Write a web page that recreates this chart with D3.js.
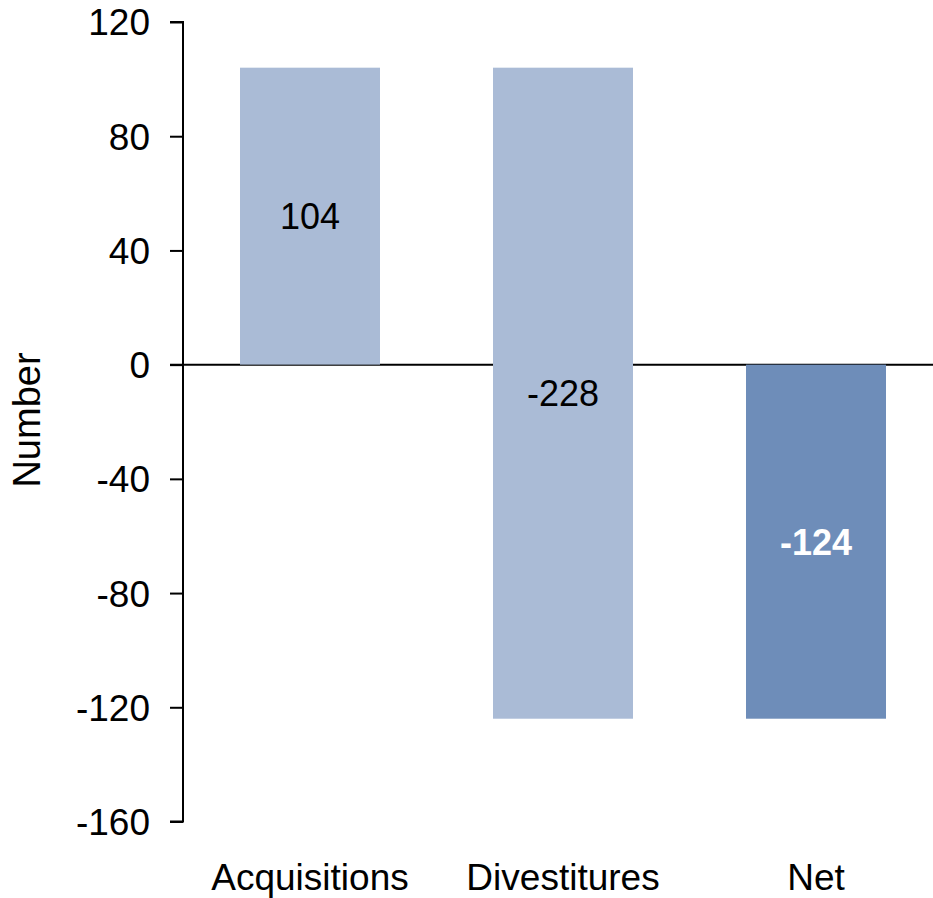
<!DOCTYPE html>
<html>
<head>
<meta charset="utf-8">
<script src="https://cdn.jsdelivr.net/npm/d3@7"></script>
<style>
  html, body { margin: 0; padding: 0; background: #fff; }
  svg text { font-family: "Liberation Sans", Arial, sans-serif; }
</style>
</head>
<body>
<svg id="chart" width="933" height="898"></svg>
<script>
const categories = ["Acquisitions", "Divestitures", "Net"];
const values = [104, -228, -124];
const isTotal = [false, false, true];
const yTicks = [120, 80, 40, 0, -40, -80, -120, -160];
const yTitle = "Number";

const lightColor = "#aabbd6";
const darkColor = "#6e8db9";

const svg = d3.select("#chart");

const y = d3.scaleLinear().domain([-160, 120]).range([821.5, 22]);
const x = d3.scaleBand().domain(categories).range([183.5, 942.5])
  .paddingInner(113 / 253).paddingOuter(113 / 253 / 2);

// compute waterfall segments
let running = 0;
const bars = categories.map((c, i) => {
  let start, end;
  if (isTotal[i]) { start = 0; end = values[i]; running = values[i]; }
  else { start = running; end = running + values[i]; running = end; }
  return { cat: c, value: values[i], start, end, total: isTotal[i] };
});

// zero line (behind bars)
svg.append("line")
  .attr("x1", 170).attr("x2", 933)
  .attr("y1", y(0)).attr("y2", y(0))
  .attr("stroke", "#000").attr("stroke-width", 2);

// bars
svg.append("g").selectAll("rect").data(bars).join("rect")
  .attr("x", d => x(d.cat))
  .attr("width", x.bandwidth())
  .attr("y", d => y(Math.max(d.start, d.end)))
  .attr("height", d => Math.abs(y(d.start) - y(d.end)))
  .attr("fill", d => d.total ? darkColor : lightColor);

// bar labels
svg.append("g").selectAll("text").data(bars).join("text")
  .attr("x", d => x(d.cat) + x.bandwidth() / 2)
  .attr("y", d => (y(d.start) + y(d.end)) / 2 + 13)
  .attr("text-anchor", "middle")
  .attr("font-size", 36)
  .attr("font-weight", d => d.total ? "bold" : "normal")
  .attr("fill", d => d.total ? "#fff" : "#000")
  .text(d => String(d.value));

// y axis
const yAxis = d3.axisLeft(y).tickValues(yTicks).tickSize(13).tickPadding(20)
  .tickFormat(d => String(d));
const gy = svg.append("g").attr("transform", "translate(183,0)").call(yAxis);
gy.select(".domain").attr("stroke", "#000").attr("stroke-width", 2)
  .attr("d", `M-13,${y(120)}H0V${y(-160)}H-13`);
gy.selectAll(".tick line").attr("stroke", "#000").attr("stroke-width", 2);
gy.selectAll(".tick text").attr("font-size", 37).attr("fill", "#000")
  .attr("font-family", "Liberation Sans, Arial, sans-serif")
  .attr("dy", "0.35em");

// x category labels
const xAxis = d3.axisBottom(x).tickSize(0).tickPadding(0);
const gx = svg.append("g").attr("transform", "translate(0,890)").call(xAxis);
gx.select(".domain").remove();
gx.selectAll(".tick text").attr("font-size", 37).attr("fill", "#000")
  .attr("font-family", "Liberation Sans, Arial, sans-serif")
  .attr("dy", 0).attr("y", 0);

// y title
svg.append("text")
  .attr("transform", "translate(40,420) rotate(-90)")
  .attr("text-anchor", "middle")
  .attr("font-size", 38)
  .attr("fill", "#000")
  .text(yTitle);
</script>
</body>
</html>
